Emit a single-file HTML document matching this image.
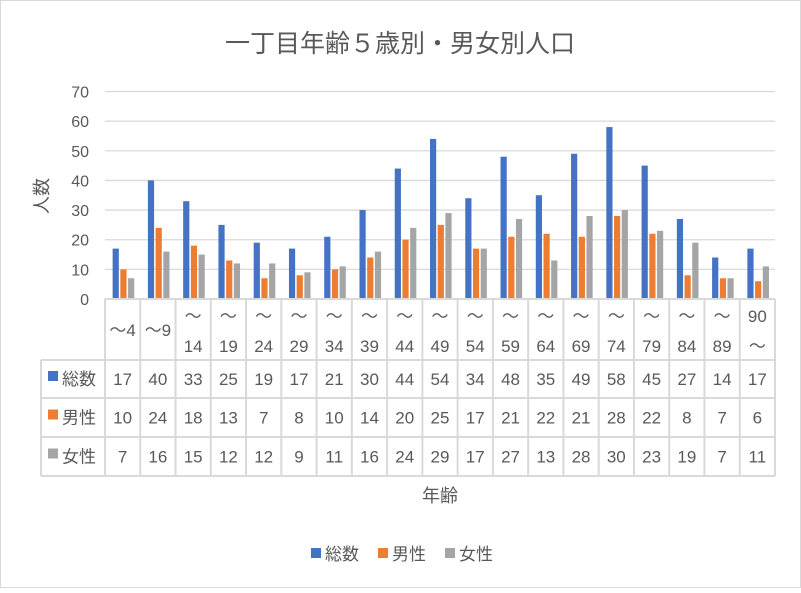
<!DOCTYPE html>
<html><head><meta charset="utf-8"><style>
body{margin:0;background:#fff}
svg text{font-family:"Liberation Sans","Noto Sans CJK JP",sans-serif;fill:#595959}
</style></head><body>
<svg id="c" width="801" height="588" xmlns="http://www.w3.org/2000/svg">
<rect x="0.5" y="0.5" width="800" height="587" fill="#fff" stroke="#d9d9d9"/>
<text x="400" y="52" font-size="25" text-anchor="middle">一丁目年齢５歳別・男女別人口</text>
<text transform="translate(48,196) rotate(-90)" font-size="18" text-anchor="middle">人数</text>
<text x="440" y="502" font-size="18" text-anchor="middle">年齢</text>
<g id="grid"></g><g id="bars"></g><g id="table"></g>
<g>
<rect x="311" y="548" width="10" height="10" fill="#4472c4"/>
<text x="325" y="560" font-size="17">総数</text>
<rect x="378" y="548" width="10" height="10" fill="#ed7d31"/>
<text x="392" y="560" font-size="17">男性</text>
<rect x="445" y="548" width="10" height="10" fill="#a5a5a5"/>
<text x="459" y="560" font-size="17">女性</text>
</g>
</svg>
<script>
const categories=[["～4"],["～9"],["～","14"],["～","19"],["～","24"],["～","29"],["～","34"],["～","39"],["～","44"],["～","49"],["～","54"],["～","59"],["～","64"],["～","69"],["～","74"],["～","79"],["～","84"],["～","89"],["90","～"]];
const total=[17,40,33,25,19,17,21,30,44,54,34,48,35,49,58,45,27,14,17];
const male=[10,24,18,13,7,8,10,14,20,25,17,21,22,21,28,22,8,7,6];
const female=[7,16,15,12,12,9,11,16,24,29,17,27,13,28,30,23,19,7,11];
const yTicks=[0,10,20,30,40,50,60,70];
const seriesNames=["総数","男性","女性"];
const colors=["#4472c4","#ed7d31","#a5a5a5"];
const NS="http://www.w3.org/2000/svg";
const X0=105,X1=775,Y0=299,Y70=91.5,yMax=70;
const cw=(X1-X0)/categories.length;
const y=v=>Y0-(v/yMax)*(Y0-Y70);
const xc=i=>X0+cw*(i+0.5);
function mk(tag,attrs,parent){const e=document.createElementNS(NS,tag);for(const k in attrs)e.setAttribute(k,attrs[k]);parent.appendChild(e);return e;}
const grid=document.getElementById('grid');
yTicks.forEach(t=>{
 const l=mk('line',{x1:X0,x2:X1,y1:y(t),y2:y(t),stroke:'#d9d9d9','stroke-width':1.3},grid);
 
 
 const tx=mk('text',{x:89,y:y(t)+6,'font-size':16,'text-anchor':'end'},grid);
 tx.textContent=t;
 
 
});
const bars=document.getElementById('bars');
const series=[total,male,female];
const keys=["total","male","female"];
series.forEach((s,si)=>{
 s.forEach((v,i)=>{
  const r=mk('rect',{x:xc(i)-10+si*7.7,y:y(v),width:6.2,height:Y0-y(v),fill:colors[si]},bars);
  
  
 });
});
const tb=document.getElementById('table');
const rows=[299,360,398,437,476];
const st={stroke:'#d9d9d9','stroke-width':2};
// horizontal lines
mk('line',Object.assign({x1:X0,x2:X1,y1:rows[0],y2:rows[0]},st),tb);
for(let r=1;r<5;r++)mk('line',Object.assign({x1:41,x2:X1,y1:rows[r],y2:rows[r]},st),tb);
mk('line',Object.assign({x1:41,x2:41,y1:rows[1],y2:rows[4]},st),tb);
for(let i=0;i<=categories.length;i++)mk('line',Object.assign({x1:X0+cw*i,x2:X0+cw*i,y1:rows[0],y2:rows[4]},st),tb);
categories.forEach((c,i)=>{
 const t=mk('text',{x:xc(i),'font-size':17,'text-anchor':'middle'},tb);
 
 
 if(c.length===1){t.setAttribute('y',336);t.textContent=c[0];}
 else{const a=mk('tspan',{x:xc(i),y:322},t);a.textContent=c[0];const b=mk('tspan',{x:xc(i),y:352},t);b.textContent=c[1];}
});
series.forEach((s,si)=>{
 const cy=(rows[si+1]+rows[si+2])/2+6;
 const sw=mk('rect',{x:48,y:cy-14,width:10,height:10,fill:colors[si]},tb);
 
 
 const lb=mk('text',{x:62,y:cy,'font-size':17},tb);
 lb.textContent=seriesNames[si];
 
 
 s.forEach((v,i)=>{
  const t=mk('text',{x:xc(i),y:cy,'font-size':17,'text-anchor':'middle'},tb);
  t.textContent=v;
  
  
 });
});
</script>
</body></html>
